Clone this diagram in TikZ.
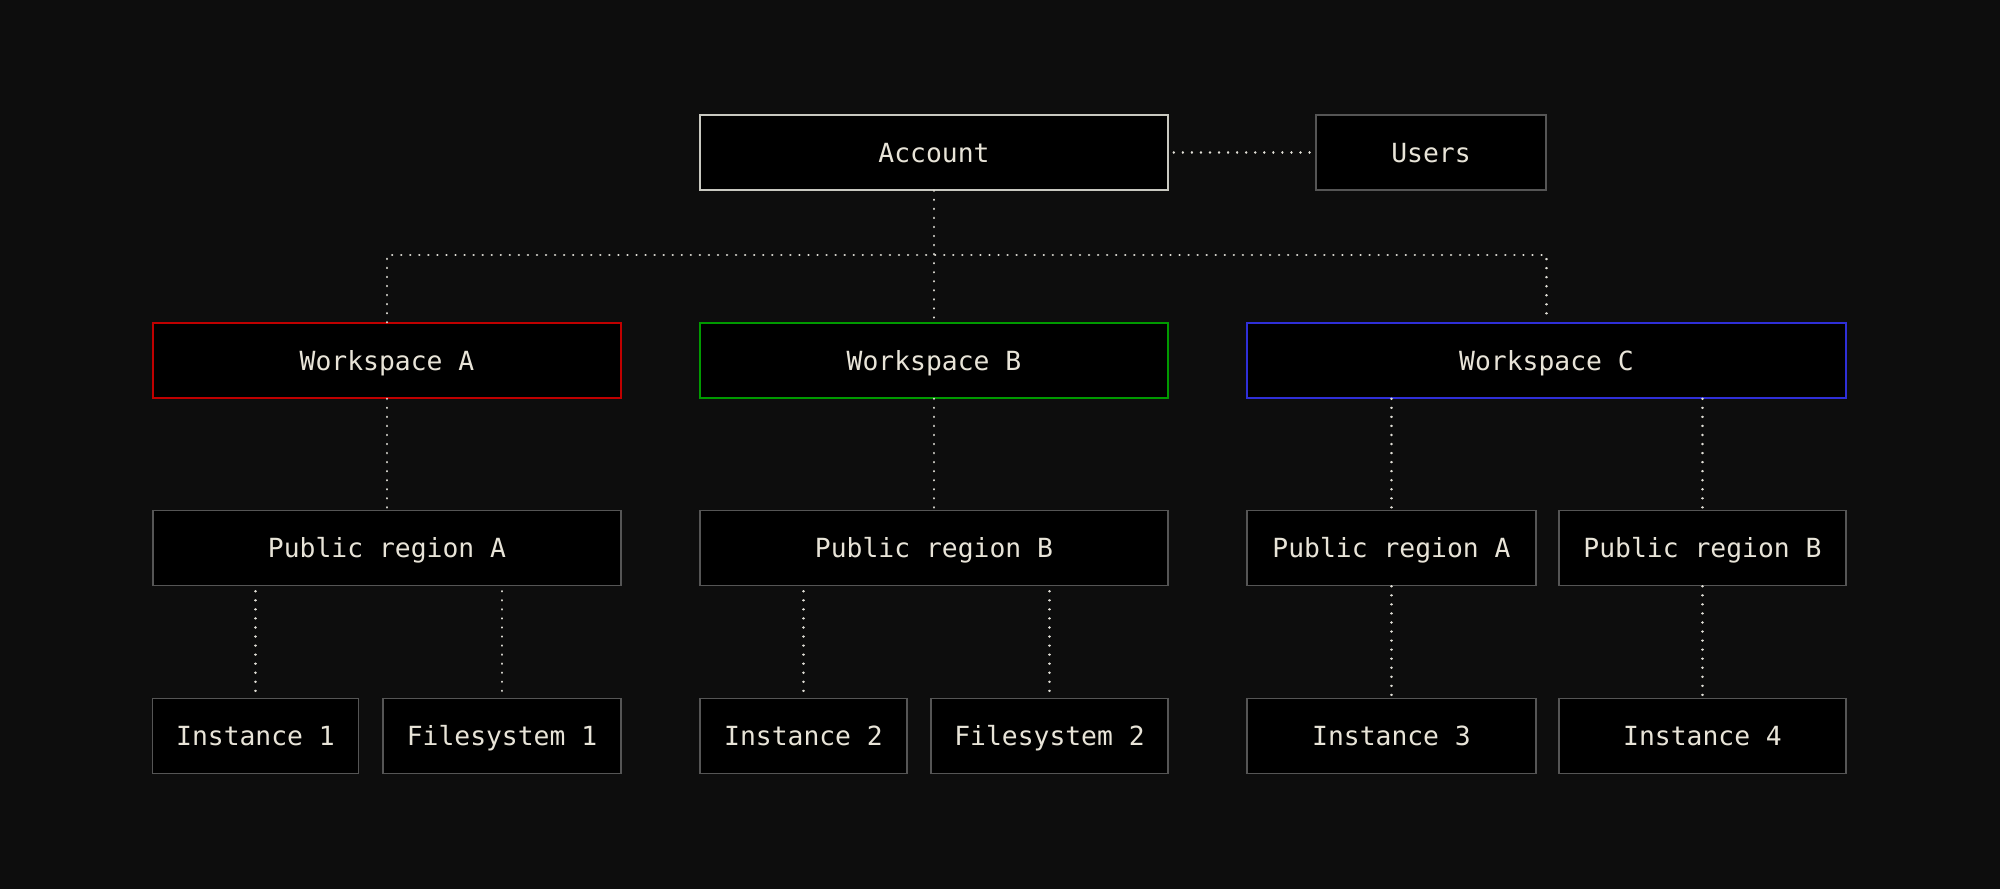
\documentclass[tikz,border=0pt]{standalone}
\usepackage{fontspec}
\setmonofont{DejaVu Sans Mono}
\definecolor{bgc}{HTML}{0D0D0D}
\definecolor{txtc}{HTML}{E8E4D8}
\definecolor{dotc}{HTML}{E0DED6}
\definecolor{grayc}{HTML}{555555}
\definecolor{acctc}{HTML}{C8C8C0}
\definecolor{wsred}{HTML}{C00000}
\definecolor{wsgreen}{HTML}{009A00}
\definecolor{wsblue}{HTML}{2F2FD8}
\begin{document}
\begin{tikzpicture}[x=.2mm,y=-.2mm,line width=.3mm,
  box/.style={draw=grayc,fill=black,text=txtc,minimum height=15mm,inner sep=0pt,
    text height=11pt,text depth=0pt,font=\ttfamily\fontsize{15}{18}\selectfont},
  link/.style={dotc,line width=.5mm,dash pattern=on .01mm off 1.8mm,line cap=round},
  gap/.style={shorten <=1mm,shorten >=1mm}]
\fill[bgc] (0,0) rectangle (2000,889);
% top row
\node[box,draw=acctc,minimum width=93.6mm] (acc) at (934,152.5) {Account};
\node[box,minimum width=46mm] (usr) at (1431,152.5) {Users};
% workspaces
\node[box,draw=wsred,minimum width=93.6mm] (wsa) at (387,360.5) {Workspace A};
\node[box,draw=wsgreen,minimum width=93.6mm] (wsb) at (934,360.5) {Workspace B};
\node[box,draw=wsblue,minimum width=119.8mm] (wsc) at (1546.5,360.5) {Workspace C};
% regions
\node[box,minimum width=93.6mm] (rga) at (387,548) {Public region A};
\node[box,minimum width=93.6mm] (rgb) at (934,548) {Public region B};
\node[box,minimum width=57.8mm] (rca) at (1391.5,548) {Public region A};
\node[box,minimum width=57.4mm] (rcb) at (1702.5,548) {Public region B};
% instances and filesystems
\node[box,minimum width=41.2mm] (in1) at (255.5,736) {Instance 1};
\node[box,minimum width=47.6mm] (fs1) at (502,736) {Filesystem 1};
\node[box,minimum width=41.4mm] (in2) at (803.5,736) {Instance 2};
\node[box,minimum width=47.4mm] (fs2) at (1049.5,736) {Filesystem 2};
\node[box,minimum width=57.8mm] (in3) at (1391.5,736) {Instance 3};
\node[box,minimum width=57.4mm] (in4) at (1702.5,736) {Instance 4};
% connectors
\coordinate (bus) at (934,255);
\draw[link,gap] (acc.east) -- (usr.west);
\draw[link] (acc.south) -- (wsb.north);
\draw[link] (wsa.north) |- (bus) -| (wsc.north);
\draw[link] (wsa) -- (rga); \draw[link] (wsb) -- (rgb);
\draw[link] (wsc.south -| rca) -- (rca.north);
\draw[link] (wsc.south -| rcb) -- (rcb.north);
\foreach \c/\p in {in1/rga,fs1/rga,in2/rgb,fs2/rgb}{
  \draw[link,gap] (\p.south -| \c) -- (\c.north);}
\draw[link] (rca) -- (in3); \draw[link] (rcb) -- (in4);
\end{tikzpicture}
\end{document}
